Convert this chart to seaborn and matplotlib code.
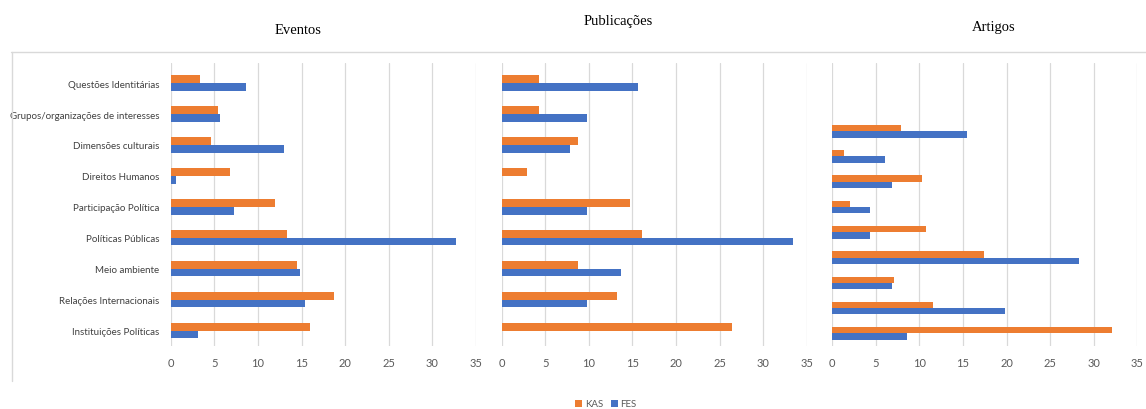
import matplotlib
matplotlib.use("Agg")
import matplotlib.pyplot as plt
import seaborn as sns
import pandas as pd
from matplotlib.lines import Line2D
from matplotlib.patches import Patch

categorias = [
    "Questões Identitárias",
    "Grupos/organizações de interesses",
    "Dimensões culturais",
    "Direitos Humanos",
    "Participação Política",
    "Políticas Públicas",
    "Meio ambiente",
    "Relações Internacionais",
    "Instituições Políticas",
]

eventos_kas = [3.4, 5.4, 4.6, 6.8, 12.0, 13.3, 14.5, 18.7, 16.0]
eventos_fes = [8.6, 5.6, 13.0, 0.6, 7.3, 32.7, 14.8, 15.4, 3.1]

publicacoes_kas = [4.3, 4.3, 8.8, 2.9, 14.7, 16.1, 8.8, 13.2, 26.4]
publicacoes_fes = [15.6, 9.8, 7.8, 0.0, 9.8, 33.4, 13.7, 9.8, 0.0]

artigos_kas = [7.9, 1.3, 10.3, 2.0, 10.8, 17.4, 7.1, 11.5, 32.1]
artigos_fes = [15.4, 6.1, 6.8, 4.3, 4.3, 28.3, 6.8, 19.8, 8.6]

series = ["KAS", "FES"]
cores = {"KAS": "#ED7D31", "FES": "#4472C4"}
ticks_x = [0, 5, 10, 15, 20, 25, 30, 35]


def long_form(kas, fes):
    return pd.DataFrame({
        "categoria": categorias * 2,
        "serie": ["KAS"] * len(categorias) + ["FES"] * len(categorias),
        "valor": list(kas) + list(fes),
    })


W, H = 1146, 410
fig = plt.figure(figsize=(W / 100, H / 100), dpi=100)
sns.set_style("white")
plt.rcParams["font.family"] = ["Lato", "DejaVu Sans"]


def fig_rect(x0, x1, ytop, ybot):
    return [x0 / W, 1 - ybot / H, (x1 - x0) / W, (ybot - ytop) / H]


paineis = [
    ("Eventos", eventos_kas, eventos_fes, fig_rect(170.7, 476.0, 64, 347), -0.65, True, (298, 30)),
    ("Publicações", publicacoes_kas, publicacoes_fes, fig_rect(501.7, 806.7, 64, 347), -0.65, False, (618, 22)),
    ("Artigos", artigos_kas, artigos_fes, fig_rect(832.3, 1137.3, 64, 347), -2.7, False, (994, 27)),
]

for titulo, kas, fes, rect, topo, mostrar_rotulos, pos_titulo in paineis:
    ax = fig.add_axes(rect)
    sns.barplot(
        data=long_form(kas, fes), y="categoria", x="valor", hue="serie",
        hue_order=series, palette=cores, order=categorias, orient="h",
        width=0.5, gap=0, errorbar=None, ax=ax, legend=False,
        saturation=1, linewidth=0,
    )
    ax.set_xlim(0, 35)
    ax.set_ylim(8.5, topo)
    ax.set_xticks(ticks_x)
    ax.set_xticklabels([str(t) for t in ticks_x], fontsize=8, color="#595959")
    ax.xaxis.grid(True, color="#D9D9D9", linewidth=0.9)
    ax.set_axisbelow(True)
    for s in ax.spines.values():
        s.set_visible(False)
    ax.tick_params(axis="both", length=0)
    ax.tick_params(axis="x", pad=8)
    ax.set_xlabel("")
    ax.set_ylabel("")
    if mostrar_rotulos:
        ax.set_yticks(range(len(categorias)))
        ax.set_yticklabels(categorias, fontsize=7, color="#404040")
        ax.tick_params(axis="y", pad=8)
    else:
        ax.set_yticks([])
    fig.text(pos_titulo[0] / W, 1 - pos_titulo[1] / H, titulo,
             ha="center", va="center", fontsize=10.5,
             family=["Liberation Serif", "DejaVu Serif"], color="#000000")

# frame lines of the chart area
fig.add_artist(Line2D([11 / W, 1.0], [1 - 53 / H, 1 - 53 / H],
                      color="#D9D9D9", linewidth=1.0, transform=fig.transFigure))
fig.add_artist(Line2D([11.5 / W, 11.5 / W], [1 - 53 / H, 1 - 382 / H],
                      color="#D9D9D9", linewidth=1.0, transform=fig.transFigure))

handles = [Patch(facecolor=cores[s], edgecolor="none") for s in series]
fig.legend(handles, series, loc="center", bbox_to_anchor=(606 / W, 1 - 405 / H),
           ncol=2, frameon=False, fontsize=7, handlelength=0.7, handleheight=0.7,
           handletextpad=0.3, columnspacing=0.8, labelcolor="#595959")

fig.savefig("out.png", dpi=100, facecolor="white")
